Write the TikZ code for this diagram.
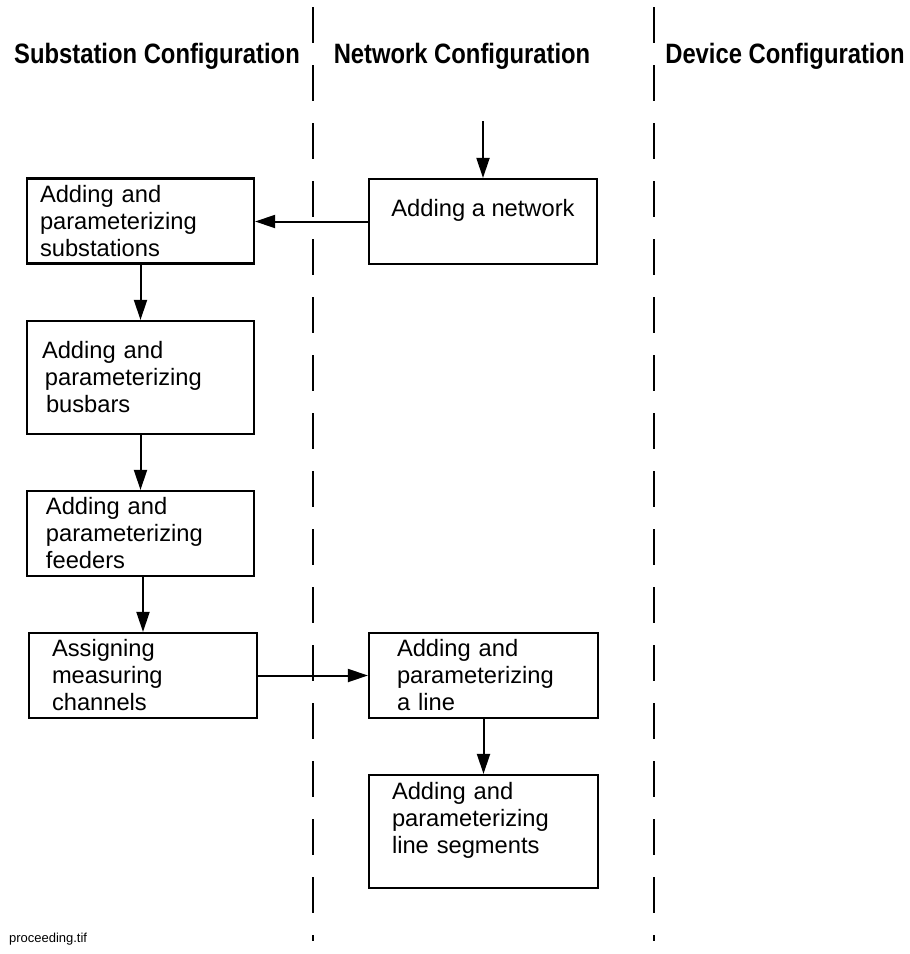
\documentclass[tikz,border=0pt]{standalone}
\usepackage{fontspec}
\setmainfont{Liberation Sans}
\newfontfamily\titlefont[FakeStretch=0.85]{Liberation Sans}
\usetikzlibrary{arrows.meta}

\begin{document}
\begin{tikzpicture}[x=0.5pt, y=-0.5pt, >={Triangle[length=10pt, width=6.5pt]},
		stage/.style={draw, line width=1.1pt, inner sep=0pt, minimum width=113.5pt, minimum height=42.5pt, align=left, font=\fontsize{11.85pt}{13.5pt}\selectfont},
		lane/.style={anchor=base, font=\titlefont\bfseries\fontsize{14pt}{16pt}\selectfont},
		flow/.style={->, line width=1pt},
		divider/.style={line width=1pt, dash pattern=on 18pt off 11pt}]
			\useasboundingbox (0, 0) rectangle (910, 954);
			% lanes
			\draw[divider] (313, 7) -- (313, 941);
			\draw[divider] (654, 7) -- (654, 941);
			\node[lane] at (157, 63) (sub-title) {Substation Configuration};
			\node[lane] at (462, 63) (net-title) {Network Configuration};
			\node[lane] at (785, 63) (dev-title) {Device Configuration};
			% steps
			\node[stage, text width=100.5pt] at (140.5, 221) (sub) {Adding and\\parameterizing\\substations};
			\node[stage, text width=98.5pt, minimum height=56.5pt] at (140.5, 377.5) (bus) {Adding and\\\hspace{1.5pt}parameterizing\\\hspace{2pt}busbars};
			\node[stage, text width=94.5pt] at (140.5, 533.5) (feed) {Adding and\\parameterizing\\feeders};
			\node[stage, text width=91pt, minimum width=114pt] at (143, 675.5) (chan) {Assigning\\measuring\\channels};
			\node[stage, align=center, minimum width=114pt] at (483, 221.5) (net) {Adding a network\\~};
			\node[stage, text width=86.5pt, minimum width=114.5pt] at (483.5, 675.5) (line) {Adding and\\parameterizing\\a line};
			\node[stage, text width=91.5pt, minimum width=114.5pt, minimum height=56.5pt] at (483.5, 831.5) (seg) {Adding and\\parameterizing\\line segments\\~};
			\coordinate (start) at (483, 121);
			% flow
			\draw[flow] (start) -- (net.north);
			\draw[flow] (net.west) -- (net.west -| sub.east);
			\draw[flow] (sub) -- (bus);
			\draw[flow] (bus) -- (feed);
			\draw[flow] (chan.north |- feed.south) -- (chan.north);
			\draw[flow] (chan.east) -- (chan.east -| line.west);
			\draw[flow] (line) -- (seg);
			\node[anchor=base west, font=\fontsize{6.5pt}{8pt}\selectfont] at (2, 942) (file) {proceeding.tif};
		\end{tikzpicture}
\end{document}
